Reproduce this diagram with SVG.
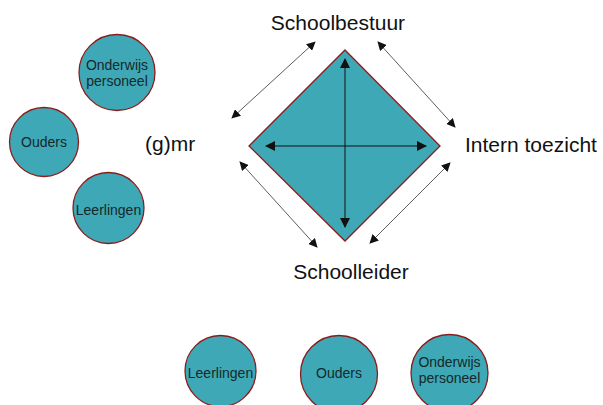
<svg xmlns="http://www.w3.org/2000/svg" width="603" height="405" viewBox="0 0 603 405">
<defs>
<style>
.c{fill:#3ea8b6;stroke:#8b1c1c;stroke-width:1.3}
.cl{font-family:"Liberation Sans",Arial,sans-serif;font-size:14px;fill:#15282b;text-anchor:middle}
.t{font-family:"Liberation Sans",Arial,sans-serif;font-size:21px;fill:#111}
.o{stroke:#333;stroke-width:0.8;fill:none;marker-start:url(#a);marker-end:url(#a)}
.i{stroke:#111;stroke-width:1;fill:none;marker-start:url(#a2);marker-end:url(#a2)}
</style>
<marker id="a" viewBox="0 0 10 10" refX="9" refY="5" markerWidth="9" markerHeight="9" markerUnits="userSpaceOnUse" orient="auto-start-reverse"><path d="M0,0L10,5L0,10z" fill="#111"/></marker>
<marker id="a2" viewBox="0 0 10 10" refX="9" refY="5" markerWidth="10" markerHeight="10" markerUnits="userSpaceOnUse" orient="auto-start-reverse"><path d="M0,0L10,5L0,10z" fill="#111"/></marker>
</defs>
<rect width="603" height="405" fill="#fff"/>
<g id="diamond"><polygon points="345,50 440,146 345,241 249,146" class="c" stroke-width="1"/></g>
<g id="connectors">
<line x1="345" y1="59" x2="345" y2="227" class="i"/>
<line x1="266" y1="146" x2="426" y2="146" class="i"/>
<line x1="315" y1="42" x2="232" y2="118" class="o"/>
<line x1="378" y1="42" x2="455" y2="127" class="o"/>
<line x1="240" y1="162" x2="317" y2="247" class="o"/>
<line x1="450" y1="163" x2="370" y2="243" class="o"/>
</g>
<g id="schoolbestuur"><text x="338" y="30" class="t" text-anchor="middle">Schoolbestuur</text></g>
<g id="schoolleider"><text x="351" y="279" class="t" text-anchor="middle">Schoolleider</text></g>
<g id="intern-toezicht"><text x="465" y="152" class="t">Intern toezicht</text></g>
<g id="gmr"><text x="145" y="151" class="t">(g)mr</text></g>
<g id="onderwijs-personeel-1"><circle cx="117" cy="72.5" r="38" class="c"/><text x="117" y="70" class="cl">Onderwijs</text><text x="117" y="86" class="cl">personeel</text></g>
<g id="ouders-1"><circle cx="44" cy="142" r="34.5" class="c"/><text x="44" y="147" class="cl">Ouders</text></g>
<g id="leerlingen-1"><circle cx="108.5" cy="208" r="35.5" class="c"/><text x="108.5" y="215" class="cl">Leerlingen</text></g>
<g id="leerlingen-2"><circle cx="220.5" cy="371" r="35.5" class="c"/><text x="220.5" y="378" class="cl">Leerlingen</text></g>
<g id="ouders-2"><circle cx="339" cy="374" r="38.5" class="c"/><text x="339" y="378" class="cl">Ouders</text></g>
<g id="onderwijs-personeel-2"><circle cx="449.5" cy="373" r="38.5" class="c"/><text x="449.5" y="367" class="cl">Onderwijs</text><text x="449.5" y="383" class="cl">personeel</text></g>
</svg>
